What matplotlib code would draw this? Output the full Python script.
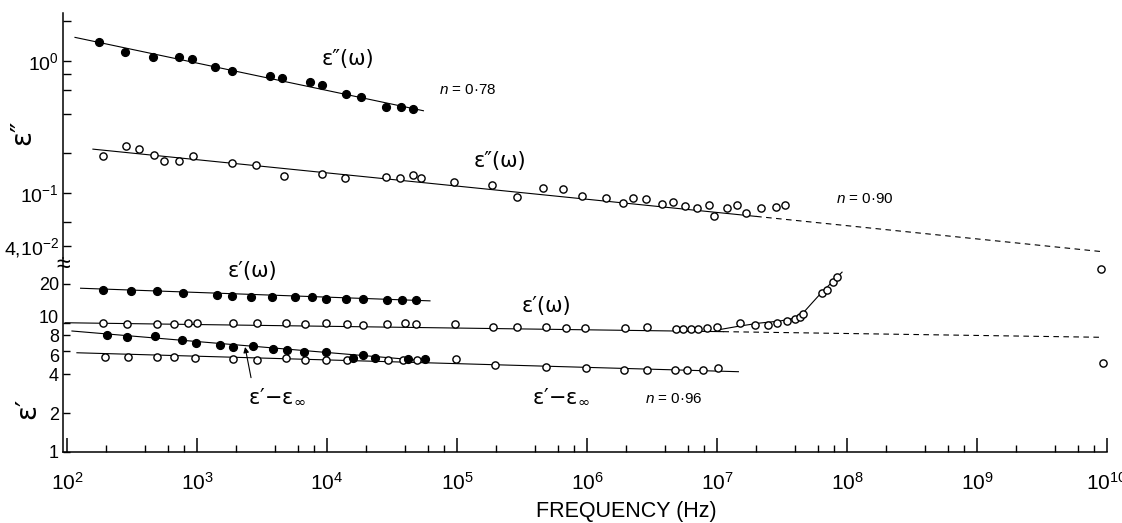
import numpy as np
import matplotlib
matplotlib.use("Agg")
import matplotlib.pyplot as plt
from matplotlib.transforms import ScaledTranslation

# ---------------- data ----------------
# eps'' filled (upper, n = 0.78)
f_e2_fill = [177, 279, 456, 728, 910, 1374, 1871, 3648, 4477, 7396, 9099,
             13930, 18280, 28250, 36900, 46130]
e2_fill = [1.40, 1.18, 1.07, 1.08, 1.04, 0.906, 0.845, 0.774, 0.748, 0.693,
           0.662, 0.558, 0.533, 0.451, 0.448, 0.435]
fit1_f = [115, 55100]
fit1_v = [1.51, 0.42]

# eps'' open (n = 0.90)
f_e2_open = [188, 283, 360, 467, 560, 731, 927, 1850, 2830, 4670, 9200, 13740,
             28310, 36480, 46130, 52600, 94840, 184900, 287700, 456000, 650100,
             920400, 1.40e6, 1.88e6, 2.27e6, 2.83e6, 3.76e6, 4.61e6, 5.68e6,
             7.05e6, 8.73e6, 9.53e6, 1.19e7, 1.43e7, 1.67e7, 2.18e7, 2.83e7, 3.33e7]
e2_open = [0.191, 0.227, 0.214, 0.193, 0.174, 0.176, 0.192, 0.170, 0.164, 0.134,
           0.139, 0.131, 0.1315, 0.130, 0.137, 0.129, 0.122, 0.115, 0.0927,
           0.1086, 0.1067, 0.0949, 0.0912, 0.0836, 0.0912, 0.0896, 0.0826,
           0.0851, 0.0801, 0.0774, 0.0811, 0.0669, 0.0766, 0.0811, 0.0709,
           0.0766, 0.0779, 0.0811]
fit2_solid_f = [158, 2.0e7]
fit2_solid_v = [0.215, 0.0665]
fit2_dash_f = [2.0e7, 8.83e9]
fit2_dash_v = [0.0665, 0.0361]

# eps' filled
f_e1_fill = [190, 309, 490, 776, 1419, 1849, 2600, 3758, 5675, 7621, 9817,
             14000, 19010, 28770, 37930, 48420]
e1_fill = [17.8, 17.5, 17.5, 17.0, 16.3, 16.0, 15.7, 15.8, 15.8, 15.8, 15.1,
           15.1, 15.1, 14.9, 14.9, 14.9]
fit3_f = [127, 61900]
fit3_v = [18.4, 14.7]

# eps' open
f_e1_open = [190, 291, 490, 665, 857, 995, 1901, 2877, 4842, 6776, 9772, 14190,
             19010, 28770, 39810, 48420, 96610, 190100, 291100, 484200, 688700,
             966100, 1.96e6, 2.91e6, 4.84e6, 5.51e6, 6.28e6, 7.18e6, 8.34e6,
             9.95e6, 1.50e7, 1.96e7, 2.48e7, 2.88e7, 3.44e7, 3.98e7, 4.35e7,
             4.61e7, 6.38e7, 7.01e7, 7.80e7, 8.37e7, 9.0e9]
e1_open = [9.86, 9.74, 9.74, 9.74, 9.86, 9.86, 10.0, 10.0, 9.86, 9.74, 9.86,
           9.74, 9.57, 9.74, 9.86, 9.74, 9.79, 9.28, 9.28, 9.18, 9.02, 9.02,
           9.02, 9.18, 8.86, 8.86, 8.86, 8.86, 9.02, 9.18, 9.86, 9.57, 9.57,
           9.86, 10.27, 10.64, 11.09, 11.63, 17.05, 17.98, 20.5, 22.5, 25.9]
fit4_solid_f = [96.6, 1.12e7]
fit4_solid_v = [9.96, 8.5]
fit4_dash_f = [1.12e7, 9.0e9]
fit4_dash_v = [8.5, 7.69]
rise_f = [1.0e7, 1.50e7, 2.14e7, 3.05e7, 3.98e7, 4.59e7, 5.38e7, 6.42e7, 7.67e7, 9.16e7]
rise_v = [8.75, 9.40, 9.91, 10.27, 10.83, 11.84, 14.15, 17.2, 20.5, 24.5]

# eps' - eps_inf filled
f_d_fill = [201, 290, 475, 760, 973, 1503, 1884, 2679, 3846, 4955, 6622, 9817,
            15780, 18920, 23390, 41980, 56750]
d_fill = [8.08, 7.77, 7.87, 7.37, 6.98, 6.70, 6.43, 6.64, 6.21, 6.17, 5.95,
          5.95, 5.32, 5.61, 5.32, 5.20, 5.20]
fit5_f = [109, 58900]
fit5_v = [8.6, 5.05]

# eps' - eps_inf open (n = 0.96)
f_d_open = [194, 293, 490, 665, 966, 1884, 2877, 4842, 6776, 9772, 14190, 29650,
            38640, 48980, 98170, 195900, 484200, 982000, 1.93e6, 2.88e6,
            4.75e6, 5.92e6, 7.85e6, 1.02e7, 9.31e9]
d_open = [5.39, 5.39, 5.39, 5.39, 5.29, 5.20, 5.13, 5.29, 5.13, 5.13, 5.13,
          5.13, 5.13, 5.13, 5.20, 4.70, 4.51, 4.43, 4.30, 4.30, 4.30, 4.30,
          4.30, 4.43, 4.87]
fit6_f = [119, 1.46e7]
fit6_v = [5.84, 4.17]

x_major = [1e2, 1e3, 1e4, 1e5, 1e6, 1e7, 1e8, 1e9, 1e10]
x_labels = [r'$10^{2}$', r'$10^{3}$', r'$10^{4}$', r'$10^{5}$', r'$10^{6}$',
            r'$10^{7}$', r'$10^{8}$', r'$10^{9}$', r'$10^{10}$']
hi_ticks = [0.04, 0.06, 0.1, 0.2, 0.4, 0.6, 0.8, 1.0, 2.0]
hi_labels = [r'$4{,}10^{-2}$', '', r'$10^{-1}$', '', '', '', '', r'$10^{0}$', '']
lo_ticks = [1, 2, 4, 6, 8, 10, 20]
lo_labels = ['1', '2', '4', '6', '8', '10', '20']

# ---------------- style ----------------
plt.rcParams['font.family'] = ['Liberation Sans', 'DejaVu Sans']
plt.rcParams['mathtext.fontset'] = 'custom'
plt.rcParams['mathtext.rm'] = 'Liberation Sans'
plt.rcParams['mathtext.it'] = 'Liberation Sans:italic'
plt.rcParams['mathtext.default'] = 'regular'

W, H = 1122, 523
fig = plt.figure(figsize=(W / 100, H / 100), dpi=100)
left = 63 / W
width = (1107 - 63) / W
ax_lo = fig.add_axes([left, (H - 452) / H, width, (452 - 258) / H])
ax_hi = fig.add_axes([left, (H - 258) / H, width, (258 - 13) / H])

for ax in (ax_lo, ax_hi):
    ax.set_xscale('log')
    ax.set_yscale('log')
    ax.set_xlim(93, 1e10)
    ax.patch.set_alpha(0)
    for s in ('top', 'right'):
        ax.spines[s].set_visible(False)
    ax.spines['left'].set_linewidth(1.1)
    ax.minorticks_off()

ax_hi.spines['bottom'].set_visible(False)
ax_hi.set_ylim(0.0322, 2.31)
ax_lo.set_ylim(1, 31.5)
ax_lo.spines['bottom'].set_linewidth(1.1)

ax_hi.set_xticks([])
ax_hi.set_yticks(hi_ticks, hi_labels)
ax_hi.tick_params(axis='y', which='major', direction='in', length=6, width=1,
                  pad=3, labelsize=14)
ax_hi.yaxis.set_minor_locator(plt.NullLocator())

ax_lo.set_yticks(lo_ticks, lo_labels)
ax_lo.yaxis.set_minor_locator(plt.NullLocator())
ax_lo.tick_params(axis='y', which='major', direction='in', length=5, width=1,
                  pad=3, labelsize=13)

ax_lo.set_xticks(x_major, x_labels)
minor = []
for d in x_major[:-1]:
    for m in (2, 4, 6, 8):
        minor.append(d * m)
ax_lo.set_xticks(minor, minor=True)
ax_lo.xaxis.set_minor_formatter(plt.NullFormatter())
ax_lo.tick_params(axis='x', which='major', direction='in', length=10, width=1.1,
                  pad=14, labelsize=15)
ax_lo.tick_params(axis='x', which='minor', direction='in', length=5, width=1)

# nudge crowded tick labels apart as in the reference (10 up, 6 down)
for lbl in ax_lo.get_yticklabels():
    t = lbl.get_text()
    if t == '10':
        lbl.set_transform(lbl.get_transform() + ScaledTranslation(0, 4 / 72, fig.dpi_scale_trans))
    elif t == '6':
        lbl.set_transform(lbl.get_transform() + ScaledTranslation(0, -3 / 72, fig.dpi_scale_trans))

lw = 0.8
filled = dict(ls='none', marker='o', ms=5.6, color='k', zorder=3)
opened = dict(ls='none', marker='o', ms=5.2, mfc='white', mec='k', mew=1.0, zorder=3)
dash = (0, (5, 4))

# upper panel
ax_hi.plot(fit1_f, fit1_v, '-', color='k', lw=lw)
ax_hi.plot(f_e2_fill, e2_fill, **filled)
ax_hi.plot(fit2_solid_f, fit2_solid_v, '-', color='k', lw=lw)
ax_hi.plot(fit2_dash_f, fit2_dash_v, color='k', lw=lw, ls=dash)
ax_hi.plot(f_e2_open, e2_open, **opened)

# lower panel
ax_lo.plot(fit3_f, fit3_v, '-', color='k', lw=lw)
ax_lo.plot(f_e1_fill, e1_fill, **filled)
ax_lo.plot(fit4_solid_f, fit4_solid_v, '-', color='k', lw=lw)
ax_lo.plot(fit4_dash_f, fit4_dash_v, color='k', lw=lw, ls=dash)
ax_lo.plot(rise_f, rise_v, '-', color='k', lw=lw)
ax_lo.plot(fit5_f, fit5_v, '-', color='k', lw=lw)
ax_lo.plot(fit6_f, fit6_v, '-', color='k', lw=lw)
ax_lo.plot(f_e1_open, e1_open, **opened)
ax_lo.plot(f_d_open, d_open, **opened)
ax_lo.plot(f_d_fill, d_fill, **filled)

# annotations
fam = ['DejaVu Sans']
lab = dict(ha='center', va='center', fontsize=15, clip_on=False, family=fam)
ax_hi.text(14500, 1.035, "ε″(ω)", **lab)
ax_hi.text(214000, 0.175, "ε″(ω)", **lab)
ax_hi.text(121600, 0.603, r"$\mathit{n}$ = 0·78", ha='center', va='center', fontsize=11)
ax_hi.text(1.37e8, 0.0901, r"$\mathit{n}$ = 0·90", ha='center', va='center', fontsize=11)

ax_lo.text(2650, 25.0, "ε′(ω)", **lab)
ax_lo.text(484000, 13.4, "ε′(ω)", **lab)
ax_lo.text(4120, 2.71, r"ε′−ε$_{\infty}$", **lab)
ax_lo.text(631000, 2.71, r"ε′−ε$_{\infty}$", **lab)
ax_lo.text(4.67e6, 2.57, r"$\mathit{n}$ = 0·96", ha='center', va='center', fontsize=11)
ax_lo.annotate('', xy=(2340, 6.47), xytext=(2600, 3.75),
               arrowprops=dict(arrowstyle='-|>', color='k', lw=0.8,
                               mutation_scale=8, shrinkA=0, shrinkB=0))

fig.text(22 / W, 1 - 132 / H, "ε″", rotation=90, fontsize=20, family=fam,
         ha='center', va='center')
fig.text(27 / W, 1 - 408 / H, "ε′", rotation=90, fontsize=20, family=fam,
         ha='center', va='center')
fig.text(63 / W, 1 - 265 / H, '≈', fontsize=18, ha='center', va='center')
fig.text(626 / W, 1 - 512 / H, 'FREQUENCY (Hz)', fontsize=15.5,
         ha='center', va='center')

fig.savefig('out.png', dpi=100, facecolor='white')
